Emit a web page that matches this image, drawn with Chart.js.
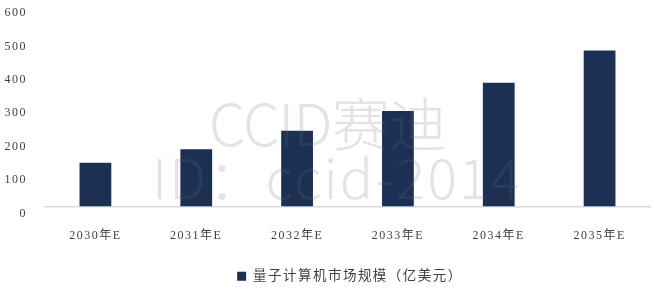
<!DOCTYPE html>
<html>
<head>
<meta charset="utf-8">
<script src="https://cdn.jsdelivr.net/npm/chart.js@4"></script>
<style>
  html, body { margin: 0; padding: 0; background: #fff; }
  #wrap { width: 654px; height: 295px; }
</style>
</head>
<body>
<div id="wrap"><canvas id="chart"></canvas></div>
<script>
var years = ["2030年E", "2031年E", "2032年E", "2033年E", "2034年E", "2035年E"];
var marketSize = [131, 171, 227, 286, 370, 467];
var seriesName = "量子计算机市场规模（亿美元）";
var yTicks = [0, 100, 200, 300, 400, 500, 600];
var watermark = ["CCID赛迪", "ID：ccid-2014"];

var serif = "'Liberation Serif', 'Noto Sans CJK SC', serif";

// spaced-out lettering like the original, reset for the watermark
var spacing = {
    id: 'spacing',
    beforeUpdate: function(chart) { chart.ctx.letterSpacing = '1.5px'; },
    beforeLayout: function(chart) { chart.ctx.letterSpacing = '1.5px'; },
    afterLayout: function(chart) {
        // legend sits a bit right of centre in the original
        chart.legend.left += 25;
        chart.legend.right += 25;
    },
    beforeDraw: function(chart) { chart.ctx.letterSpacing = '1.5px'; }
};

function stampLine(ctx, text, x, baseline, width, size) {
    ctx.font = "300 " + size + "px 'Noto Sans CJK SC', sans-serif";
    ctx.letterSpacing = '0px';
    var w = ctx.measureText(text).width;
    var n = Array.from(text).length;
    ctx.letterSpacing = ((width - w) / (n - 1)) + 'px';
    ctx.fillText(text, x, baseline);
}

function drawStamp(chart, colour) {
    var ctx = chart.ctx;
    ctx.save();
    ctx.fillStyle = colour;
    ctx.textAlign = 'left';
    ctx.textBaseline = 'alphabetic';
    stampLine(ctx, watermark[0], 209, 146, 238, 58);
    stampLine(ctx, watermark[1], 152, 199, 368, 55);
    ctx.restore();
}

// grey behind the bars, a faint veil on top of them
var stamp = {
    id: 'stamp',
    beforeDatasetsDraw: function(chart) { drawStamp(chart, '#e4e4e4'); },
    afterDatasetsDraw: function(chart) { drawStamp(chart, 'rgba(228,228,228,0.07)'); }
};

var ctx = document.getElementById("chart");
var chart = new Chart(ctx, {
    type: 'bar',
    data: {
        labels: years,
        datasets: [{
            label: seriesName,
            data: marketSize,
            backgroundColor: '#1b3053',
            categoryPercentage: 1,
            barPercentage: 0.315
        }]
    },
    plugins: [spacing, stamp],
    options: {
        responsive: true,
        maintainAspectRatio: false,
        animation: false,
        layout: { padding: { top: 6, right: 4, left: 0, bottom: 2 } },
        plugins: {
            tooltip: { enabled: false },
            legend: {
                position: 'bottom',
                labels: {
                    boxWidth: 9,
                    boxHeight: 9,
                    padding: 10,
                    color: '#404040',
                    font: { family: serif, size: 13.5 }
                }
            }
        },
        scales: {
            x: {
                grid: { display: false, drawTicks: false },
                border: { display: true, color: '#d9d9d9', width: 1.5 },
                ticks: {
                    color: '#404040',
                    padding: 22,
                    maxRotation: 0,
                    font: { family: serif, size: 12 }
                },
                afterFit: function(scale) { scale.height = 53; }
            },
            y: {
                min: 0,
                max: 600,
                afterBuildTicks: function(scale) {
                    scale.ticks = yTicks.map(function(v) { return { value: v }; });
                },
                grid: { display: false, drawTicks: false },
                border: { display: false },
                ticks: {
                    color: '#404040',
                    padding: 18,
                    labelOffset: 7,
                    font: { family: serif, size: 12 }
                },
                afterFit: function(scale) {
                    scale.width = 45;
                    scale.paddingTop = 0;
                    scale.paddingBottom = 0;
                }
            }
        }
    }
});
</script>
</body>
</html>
